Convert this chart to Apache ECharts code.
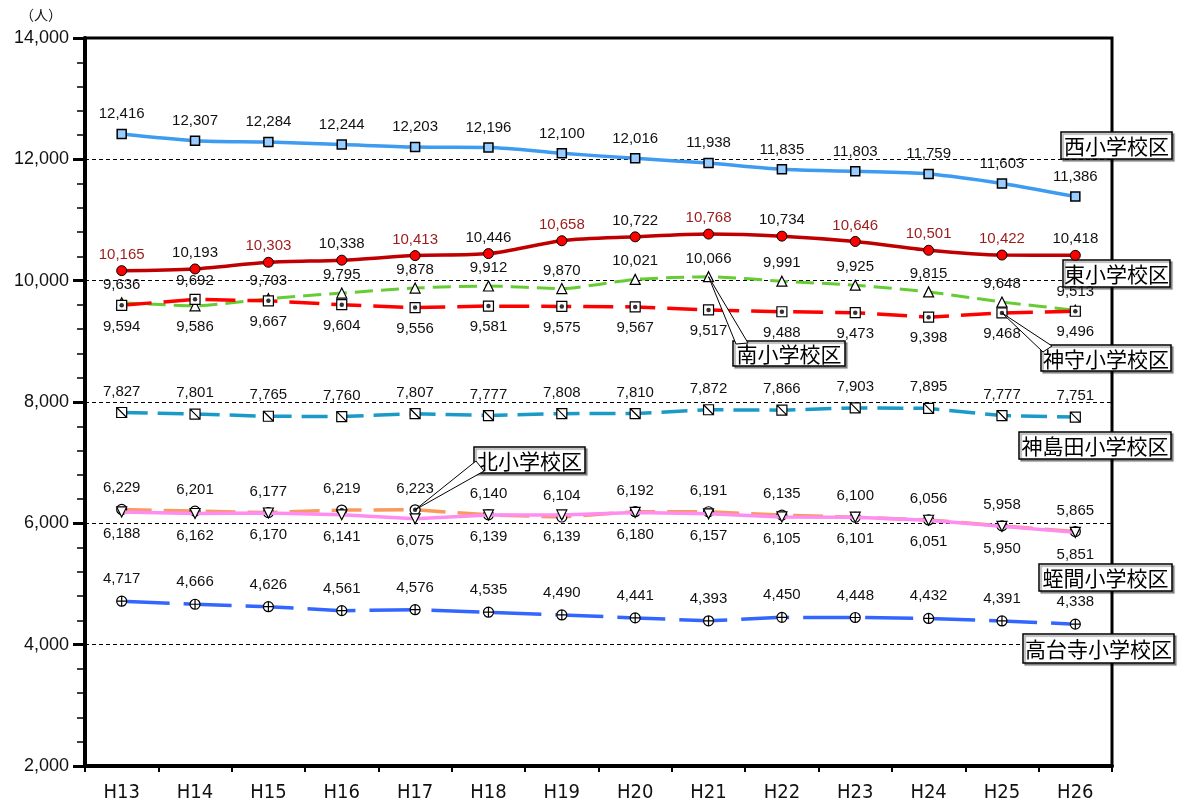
<!DOCTYPE html>
<html><head><meta charset="utf-8">
<script src="https://cdn.jsdelivr.net/npm/echarts@6/dist/echarts.min.js"></script>
<style>html,body{margin:0;padding:0;background:#fff}#c{width:1179px;height:805px}</style>
</head><body><div id="c"></div>
<script>
const categories = ['H13','H14','H15','H16','H17','H18','H19','H20','H21','H22','H23','H24','H25','H26'];
const nishi       = [12416,12307,12284,12244,12203,12196,12100,12016,11938,11835,11803,11759,11603,11386];
const higashi     = [10165,10193,10303,10338,10413,10446,10658,10722,10768,10734,10646,10501,10422,10418];
const minami      = [9636,9586,9703,9795,9878,9912,9870,10021,10066,9991,9925,9815,9648,9513];
const kamimori    = [9594,9692,9667,9604,9556,9581,9575,9567,9517,9488,9473,9398,9468,9496];
const kamishimada = [7827,7801,7765,7760,7807,7777,7808,7810,7872,7866,7903,7895,7777,7751];
const kita        = [6229,6201,6177,6219,6223,6140,6104,6192,6191,6135,6100,6056,5958,5865];
const hiruma      = [6188,6162,6170,6141,6075,6139,6139,6180,6157,6105,6101,6051,5950,5851];
const kodaiji     = [4717,4666,4626,4561,4576,4535,4490,4441,4393,4450,4448,4432,4391,4338];
const seriesNames = ['西小学校区','東小学校区','南小学校区','神守小学校区','神島田小学校区','北小学校区','蛭間小学校区','高台寺小学校区'];
const yMin = 2000, yMax = 14000, yStep = 2000;
const unitLabel = '（人）';

const higashiRedIdx = [0,2,4,6,8,10,11,12];
const labelFont = 'Liberation Sans, Arial, sans-serif';
const condFont = 'DejaVu Sans Condensed, Liberation Sans Narrow, Liberation Sans, sans-serif';
const jpFont = 'Noto Sans CJK JP, sans-serif';
const fmt = p => Number(p.value).toLocaleString('en-US');

const P_RECT_DIAG = 'path://M0,0H20V20H0Z M0,0L20,20';
const P_CIRC_CROSS = 'path://M10,0A10,10 0 1,1 9.99,0Z M0,10H20 M10,0V20';

function lbl(pos, dist, color) {
  return {show:true, position:pos, distance:dist, formatter:fmt, color:color||'#111',
          fontFamily:labelFont, fontSize:15};
}
function mk(name, data, o) {
  return Object.assign({
    name, type:'line', data, animation:false, symbolSize:10,
    itemStyle:{color:'#fff', borderColor:'#000', borderWidth:1.2},
    emphasis:{disabled:true}
  }, o);
}
function dots(name, data) {
  return {name:name+'_dot', type:'scatter', data, symbol:'circle', symbolSize:4.5, silent:true, z:3,
    itemStyle:{color:'#000'}, label:{show:false}, emphasis:{disabled:true}, animation:false};
}

const series = [
  mk(seriesNames[0], nishi, {smooth:0.3, symbol:'rect', symbolSize:9,
     lineStyle:{color:'#3d9bf2', width:3.5},
     itemStyle:{color:'#99ccff', borderColor:'#000', borderWidth:1.5},
     label:lbl('top',7)}),
  mk(seriesNames[1], higashi.map((v,i)=>({value:v, label:{color: higashiRedIdx.includes(i)?'#9b1b1b':'#111'}})),
     {smooth:0.3, symbol:'circle', symbolSize:10,
     lineStyle:{color:'#c00000', width:3.5},
     itemStyle:{color:'#ff0000', borderColor:'#000', borderWidth:1},
     label:lbl('top',3)}),
  mk(seriesNames[2], minami.map((v,i)=>({value:v, label: i===1?{position:'bottom', distance:8}:{}})),
     {smooth:0.2, symbol:'triangle', symbolSize:10,
     lineStyle:{color:'#66cc33', width:3, type:[18,8]},
     label:lbl('top',5)}),
  mk(seriesNames[3], kamimori.map((v,i)=>({value:v, label: i===1?{position:'top', distance:5}:{}})),
     {symbol:'rect', symbolSize:10,
     lineStyle:{color:'#ff0000', width:3.5, type:[30,12]},
     label:lbl('bottom',8)}),
  dots(seriesNames[3], kamimori),
  mk(seriesNames[4], kamishimada, {symbol:P_RECT_DIAG, symbolSize:10,
     lineStyle:{color:'#1a9ac6', width:3.5, type:[26,10]},
     label:lbl('top',8)}),
  mk(seriesNames[5], kita, {symbol:'circle', symbolSize:10,
     lineStyle:{color:'#f79a5c', width:3.5, type:[30,12]},
     label:lbl('top',8)}),
  dots(seriesNames[5], kita),
  mk(seriesNames[6], hiruma, {symbol:'triangle', symbolRotate:180, symbolSize:10, z:4,
     lineStyle:{color:'#ff8cf0', width:3.5},
     label:lbl('bottom',9)}),
  mk(seriesNames[7], kodaiji, {symbol:P_CIRC_CROSS, symbolSize:10,
     lineStyle:{color:'#3366ff', width:3.5, type:[48,14]},
     label:lbl('top',9)})
];

const chart = echarts.init(document.getElementById('c'), null, {renderer:'canvas'});
chart.setOption({
  animation:false,
  backgroundColor:'#fff',
  grid:{left:85, right:67, top:38, bottom:39, show:true, borderColor:'#000', borderWidth:3, backgroundColor:'transparent'},
  xAxis:{type:'category', data:categories, boundaryGap:true,
    axisLine:{lineStyle:{color:'#000', width:4}},
    axisTick:{show:true, length:6, lineStyle:{color:'#000', width:2}},
    axisLabel:{color:'#111', fontFamily:condFont, fontSize:20, margin:17},
    splitLine:{show:false}},
  yAxis:{type:'value', min:yMin, max:yMax, interval:yStep,
    axisLine:{show:true, lineStyle:{color:'#000', width:4}},
    axisTick:{show:true, length:12, lineStyle:{color:'#000', width:3}},
    minorTick:{show:true, splitNumber:5, length:8, lineStyle:{color:'#000', width:1.5}},
    axisLabel:{color:'#111', fontFamily:labelFont, fontSize:18, margin:16,
      formatter:v=>v.toLocaleString('en-US')},
    splitLine:{show:true, lineStyle:{color:'#000', width:1, type:[4,3]}}},
  series
});

function box(text, x, y, w, h) {
  return {type:'group', z:100, children:[
    {type:'rect', shape:{x:x, y:y, width:w, height:h},
     style:{fill:'#fff', stroke:'#000', lineWidth:1.5, shadowColor:'rgba(0,0,0,0.35)', shadowOffsetX:2, shadowOffsetY:2, shadowBlur:1}},
    {type:'text', x:x+w/2, y:y+h/2+1, style:{text:text, fill:'#000', font:'21px '+jpFont, align:'center', verticalAlign:'middle'}}
  ]};
}
function wedge(sIdx, dIdx, value, ax, ay, bx, by) {
  const p = chart.convertToPixel({seriesIndex:sIdx}, [dIdx, value]);
  return {type:'polygon', z:90, shape:{points:[p,[ax,ay],[bx,by]]},
          style:{fill:'#fff', stroke:'#000', lineWidth:1}};
}
const g = [
  {type:'text', x:20, y:8, z:100, style:{text:unitLabel, fill:'#111', font:'14px '+jpFont}},
  wedge(2, 8, minami[8], 736, 344, 748, 343),
  wedge(3, 12, kamimori[12], 1043, 352, 1052, 346),
  wedge(6, 4, kita[4], 476, 461, 484, 471),
  box(seriesNames[0], 1061, 132, 111, 27),
  box(seriesNames[1], 1063, 260, 107, 27),
  box(seriesNames[2], 733, 341, 112, 25),
  box(seriesNames[3], 1041, 345, 130, 26),
  box(seriesNames[4], 1019, 432, 152, 27),
  box(seriesNames[5], 474, 447, 111, 26),
  box(seriesNames[6], 1039, 564, 133, 27),
  box(seriesNames[7], 1023, 634, 151, 29)
];
chart.setOption({graphic:g});
</script></body></html>
